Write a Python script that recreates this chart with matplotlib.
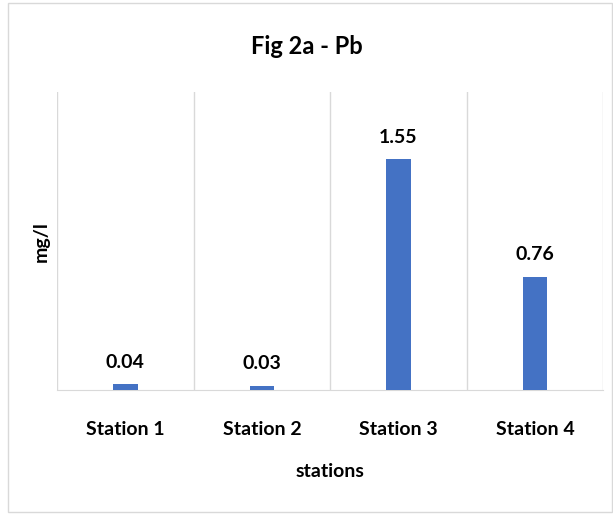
import matplotlib.pyplot as plt
import numpy as np
from matplotlib.patches import Rectangle

# data
stations = ["Station 1", "Station 2", "Station 3", "Station 4"]
pb_values = [0.04, 0.03, 1.55, 0.76]

plt.rcParams['font.family'] = ['Lato', 'DejaVu Sans']

fig = plt.figure(figsize=(6.13, 5.14), dpi=100)
ax = fig.add_axes([0.093, 0.241, 0.891, 0.580])

x = np.arange(len(stations))
ax.bar(x, pb_values, width=0.18, color="#4472C4", zorder=3)

for xi, v in zip(x, pb_values):
    ax.text(xi, v + 0.09, f"{v:.2f}", ha="center", va="bottom",
            fontsize=14, fontweight="bold", color="#000000")

ax.set_xlim(-0.5, len(stations) - 0.5)
ax.set_ylim(0, 2.0)
ax.set_xticks(x)
ax.set_xticklabels(stations, fontsize=14, fontweight="bold")
ax.set_yticks([])
ax.tick_params(axis="x", length=0, pad=22)

# category separators
for b in np.arange(-0.5, len(stations), 1.0):
    ax.axvline(b, color="#D9D9D9", lw=1, zorder=1)

for s in ["top", "left", "right"]:
    ax.spines[s].set_visible(False)
ax.spines["bottom"].set_color("#D9D9D9")

ax.set_xlabel("stations", fontsize=14, fontweight="bold", labelpad=18)
ax.set_ylabel("mg/l", fontsize=14, fontweight="bold", labelpad=5)
fig.suptitle("Fig 2a - Pb", x=0.5, y=0.932, fontsize=17, fontweight="bold")

# chart border
fig.patches.append(Rectangle((0.013, 0.004), 0.985, 0.99, transform=fig.transFigure,
                             fill=False, edgecolor="#D9D9D9", lw=1))

fig.savefig("out.png", dpi=100)
